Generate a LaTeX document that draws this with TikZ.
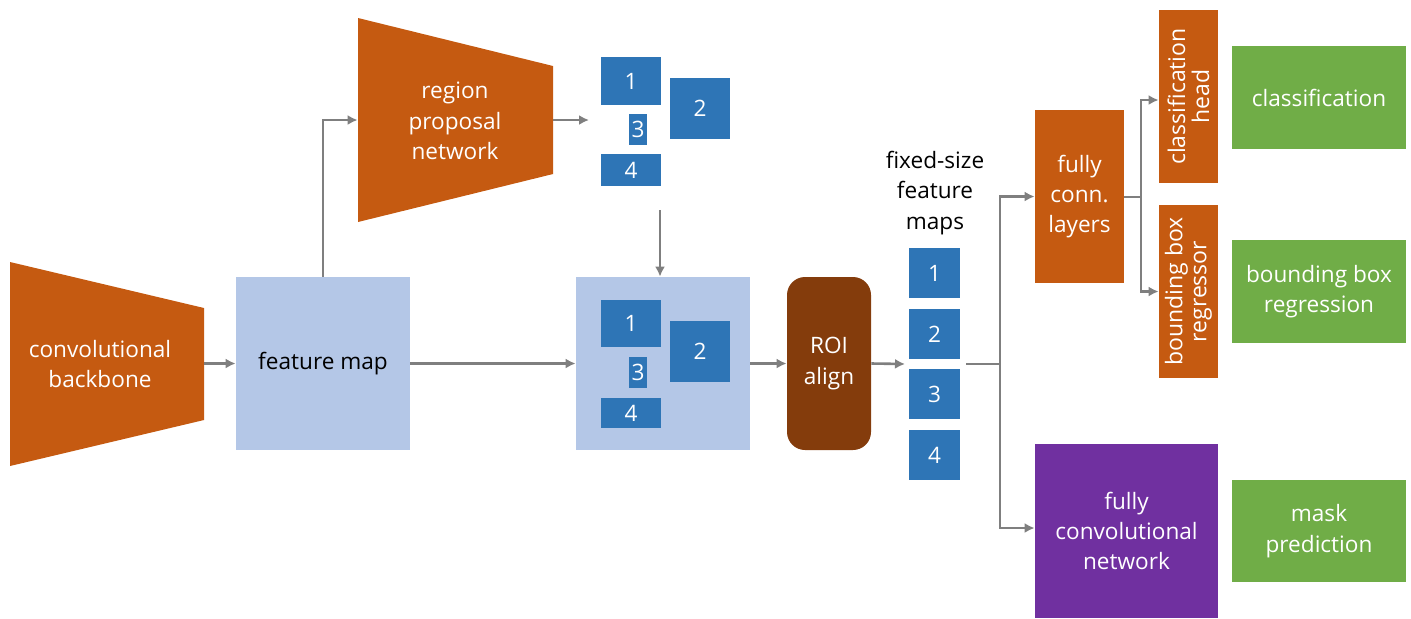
\documentclass[tikz,border=0pt]{standalone}
\usepackage{fontspec}
\setmainfont{Open Sans}
\usetikzlibrary{arrows.meta}
\definecolor{orng}{HTML}{C55A11}
\definecolor{lblue}{HTML}{B4C7E7}
\definecolor{dblue}{HTML}{2E75B6}
\definecolor{grn}{HTML}{70AD47}
\definecolor{purp}{HTML}{7030A0}
\definecolor{brwn}{HTML}{843C0C}
\definecolor{arr}{HTML}{7F7F7F}
\tikzset{
  lbl/.style={text=white, align=center, font=\fontsize{11.3}{15.2}\selectfont},
  rlbl/.style={text=white, align=center, font=\fontsize{11.5}{12}\selectfont},
  blk/.style={text=black, align=center, font=\fontsize{11.3}{15.2}\selectfont},
  rbox/.style={fill=#1, draw=none, inner sep=0pt, text=white, align=center, font=\fontsize{11.3}{15.2}\selectfont},
  conn/.style={draw=arr, line width=1.3pt, -{Latex[length=5pt,width=5pt]}},
  plain/.style={draw=arr, line width=1.3pt},
}
\newcommand{\bx}[6]{% name, color, x1, y1, x2, y2 (px) ; text after
  \node[rbox=#2, minimum width={(#5-#3)*0.5pt}, minimum height={(#6-#4)*0.5pt}] (#1) at ({(#3+#5)/2},{(#4+#6)/2})}
\begin{document}
\begin{tikzpicture}[x=0.5pt,y=-0.5pt]
\useasboundingbox (0,0) rectangle (1411,618);
% convolutional backbone
\fill[orng] (10,262) -- (204,308) -- (204,420) -- (10,466) -- cycle;
\node[inner sep=0pt, minimum width=97pt, minimum height=102pt] (cb) at (107,364) {};
\node[lbl] (cbt) at (100,364) {convolutional\\backbone};
% feature map
\bx{fm}{lblue}{236}{277}{410}{450}{};
\node[blk] (fmt) at (fm.center) {feature map};
% region proposal network
\fill[orng] (358,18) -- (553,66) -- (553,174) -- (358,222) -- cycle;
\node[inner sep=0pt, minimum width=97.5pt, minimum height=102pt] (rpn) at (455.5,120) {};
\node[lbl] (rpnt) at (455,121) {region\\proposal\\network};
% proposals (top)
\bx{pa}{dblue}{601}{57}{661}{105}{1};
\bx{pb}{dblue}{670}{78}{730}{139}{2};
\bx{pc}{dblue}{629}{114}{647}{145}{3};
\bx{pd}{dblue}{601}{154}{661}{186}{4};
\coordinate (propin) at (589,120);
\coordinate (propout) at (660,210);
% feature map with proposals
\bx{rf}{lblue}{576}{277}{750}{450}{};
\bx{qa}{dblue}{601}{300}{661}{347}{1};
\bx{qb}{dblue}{670}{321}{730}{382}{2};
\bx{qc}{dblue}{629}{357}{647}{388}{3};
\bx{qd}{dblue}{601}{398}{661}{428}{4};
% ROI align
\node[fill=brwn, rounded corners=9pt, inner sep=0pt, minimum width=42pt, minimum height=86.5pt, text=white, align=center, font=\fontsize{11.3}{15.2}\selectfont] (roi) at (829,363.5) {ROI\\align};
% fixed size feature maps
\node[blk] (fst) at (935,193) {fixed-size\\feature\\maps};
\bx{fa}{dblue}{909}{248}{960}{298}{1};
\bx{fb}{dblue}{909}{309}{960}{359}{2};
\bx{fc}{dblue}{909}{369}{960}{419}{3};
\bx{fd}{dblue}{909}{430}{960}{480}{4};
\coordinate (fsin) at (905,364);
\coordinate (fsout) at (966,364);
\coordinate (split) at (1000,364);
% fully connected layers
\bx{fcl}{orng}{1035}{110}{1124}{283}{fully\\conn.\\layers};
\coordinate (split2) at (1141,197);
% heads
\node[fill=orng, inner sep=0pt, minimum width=29.5pt, minimum height=86.5pt] (ch) at (1188.5,96.5) {};
\node[rlbl, rotate=90] at (ch.center) {classification\\head};
\node[fill=orng, inner sep=0pt, minimum width=29.5pt, minimum height=86.5pt] (bb) at (1188.5,291.5) {};
\node[rlbl, rotate=90] at (bb.center) {bounding box\\regressor};
% FCN
\bx{fcn}{purp}{1035}{444}{1218}{618}{fully\\convolutional\\network};
% outputs
\bx{oc}{grn}{1232}{46}{1406}{149}{classification};
\bx{ob}{grn}{1232}{240}{1406}{343}{bounding box\\regression};
\bx{om}{grn}{1232}{480}{1406}{582}{mask\\prediction};
% connectors
\draw[conn] (cb.east |- fm.west) -- (fm.west);
\draw[conn] (fm.north) |- (rpn.west);
\draw[conn] (rpn.east) -- (propin);
\draw[conn] (propout) -- (propout |- rf.north);
\draw[conn] (fm.east) -- (rf.west);
\draw[conn] (rf.east) -- (roi.west);
\draw[conn] (roi.east) -- (fsin);
\draw[plain] (fsout) -- (split);
\draw[conn] (split) |- (fcl.west);
\draw[conn] (split) |- ([yshift=1.5pt]fcn.west);
\draw[plain] (fcl.east |- split2) -- (split2);
\draw[conn] (split2) |- ([yshift=-1.75pt]ch.west);
\draw[conn] (split2) |- (bb.west);
\end{tikzpicture}
\end{document}
